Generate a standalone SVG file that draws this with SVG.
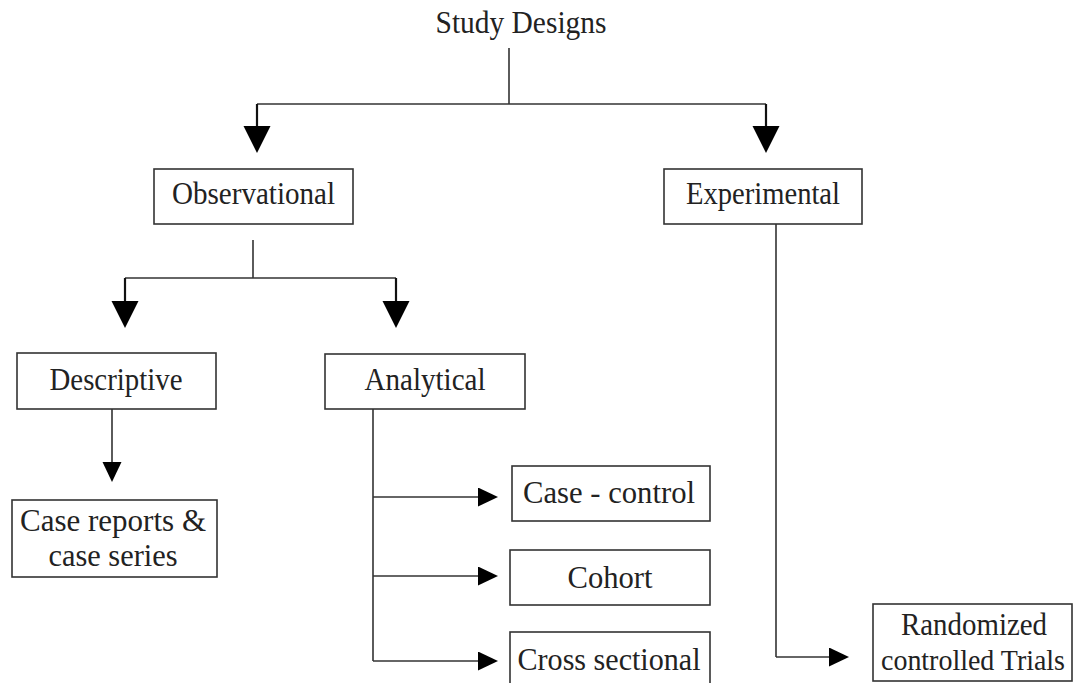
<svg xmlns="http://www.w3.org/2000/svg" width="1075" height="683" viewBox="0 0 1075 683">
<defs>
<style>
.box{fill:#fff;stroke:#333;stroke-width:1.6}
.t{font-family:"Liberation Serif","Times New Roman",serif;font-size:32px;fill:#222;text-anchor:middle}
.ln{fill:none;stroke:#333;stroke-width:1.6}
.stem{fill:none;stroke:#111;stroke-width:2.2}
</style>
<marker id="big" markerUnits="userSpaceOnUse" markerWidth="28" markerHeight="28" refX="0" refY="13.5" orient="auto" viewBox="0 0 28 28">
<path d="M0,0 L27,13.5 L0,27 z" fill="#000"/>
</marker>
<marker id="small" markerUnits="userSpaceOnUse" markerWidth="21" markerHeight="21" refX="0" refY="9.5" orient="auto" viewBox="0 0 21 21">
<path d="M0,0 L20,9.5 L0,19 z" fill="#000"/>
</marker>
</defs>
<rect width="1075" height="683" fill="#fff"/>
<g id="connectors">
<line class="ln" x1="509" y1="48" x2="509" y2="104"/>
<line class="ln" x1="257" y1="104" x2="766" y2="104"/>
<line class="stem" x1="257" y1="104" x2="257" y2="126" marker-end="url(#big)"/>
<line class="stem" x1="766" y1="104" x2="766" y2="126" marker-end="url(#big)"/>
<line class="ln" x1="253" y1="240" x2="253" y2="278"/>
<line class="ln" x1="125" y1="278" x2="396" y2="278"/>
<line class="stem" x1="125" y1="278" x2="125" y2="301" marker-end="url(#big)"/>
<line class="stem" x1="396" y1="278" x2="396" y2="301" marker-end="url(#big)"/>
<line class="ln" x1="112" y1="409" x2="112" y2="462" marker-end="url(#small)"/>
<line class="ln" x1="373" y1="409" x2="373" y2="661"/>
<line class="ln" x1="373" y1="497" x2="478" y2="497" marker-end="url(#small)"/>
<line class="ln" x1="373" y1="576" x2="478" y2="576" marker-end="url(#small)"/>
<line class="ln" x1="373" y1="661" x2="478" y2="661" marker-end="url(#small)"/>
<line class="ln" x1="776" y1="224" x2="776" y2="657"/>
<line class="ln" x1="776" y1="657" x2="829" y2="657" marker-end="url(#small)"/>
</g>
<g id="study-designs"><text class="t" x="521" y="33" textLength="171" lengthAdjust="spacingAndGlyphs">Study Designs</text></g>
<g id="observational"><rect class="box" x="154" y="169" width="199" height="55"/><text class="t" x="253.5" y="204" textLength="163" lengthAdjust="spacingAndGlyphs">Observational</text></g>
<g id="experimental"><rect class="box" x="664" y="169" width="198" height="55"/><text class="t" x="763" y="204" textLength="154" lengthAdjust="spacingAndGlyphs">Experimental</text></g>
<g id="descriptive"><rect class="box" x="17" y="353" width="199" height="56"/><text class="t" x="116" y="390" textLength="133" lengthAdjust="spacingAndGlyphs">Descriptive</text></g>
<g id="analytical"><rect class="box" x="325" y="354" width="200" height="55"/><text class="t" x="425" y="390" textLength="121" lengthAdjust="spacingAndGlyphs">Analytical</text></g>
<g id="case-reports"><rect class="box" x="12" y="500" width="205" height="77"/><text class="t" x="113" y="531" textLength="186" lengthAdjust="spacingAndGlyphs">Case reports &amp;</text><text class="t" x="113" y="566" textLength="129" lengthAdjust="spacingAndGlyphs">case series</text></g>
<g id="case-control"><rect class="box" x="512" y="466" width="198" height="55"/><text class="t" x="609" y="503" textLength="172" lengthAdjust="spacingAndGlyphs">Case - control</text></g>
<g id="cohort"><rect class="box" x="510" y="550" width="200" height="55"/><text class="t" x="610" y="588" textLength="85" lengthAdjust="spacingAndGlyphs">Cohort</text></g>
<g id="cross-sectional"><rect class="box" x="510" y="632" width="200" height="60"/><text class="t" x="609" y="670" textLength="183" lengthAdjust="spacingAndGlyphs">Cross sectional</text></g>
<g id="rct"><rect class="box" x="873" y="604" width="199" height="77"/><text class="t" x="974" y="635" textLength="146" lengthAdjust="spacingAndGlyphs">Randomized</text><text class="t" x="973" y="670" style="font-size:29px" textLength="184" lengthAdjust="spacingAndGlyphs">controlled Trials</text></g>
</svg>
